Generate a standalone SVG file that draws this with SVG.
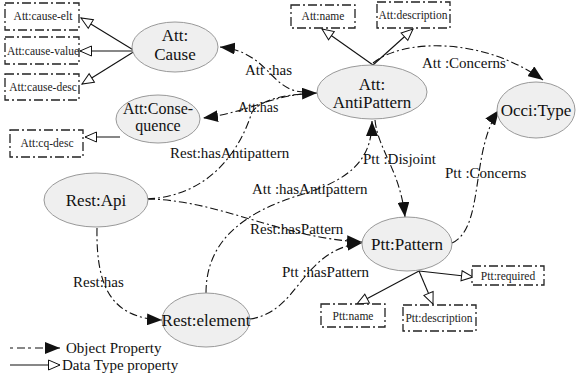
<svg xmlns="http://www.w3.org/2000/svg" width="579" height="377" viewBox="0 0 579 377">
<defs>
<marker id="fa" markerUnits="userSpaceOnUse" markerWidth="16" markerHeight="12" refX="15" refY="6" orient="auto">
<path d="M0,0 L15,6 L0,12 z" fill="#111"/>
</marker>
<marker id="ha" markerUnits="userSpaceOnUse" markerWidth="14" markerHeight="12" refX="12.5" refY="6" orient="auto">
<path d="M1,1 L12.5,6 L1,11 z" fill="#fff" stroke="#111" stroke-width="1"/>
</marker>
</defs>
<style>
.node ellipse{fill:#efefef;stroke:#999;stroke-width:1}
.node text{font-family:"Liberation Serif",serif;font-size:17px;fill:#111;text-anchor:middle}
.box rect{fill:#fff;stroke:#222;stroke-width:1.3;stroke-dasharray:9,3,2,3}
.box text{font-family:"Liberation Serif",serif;font-size:11.5px;fill:#222;text-anchor:middle}
.op{fill:none;stroke:#111;stroke-width:1.1;stroke-dasharray:8,3,2,3;marker-end:url(#fa)}
.dp{fill:none;stroke:#111;stroke-width:1.1;marker-end:url(#ha)}
.lbl{font-family:"Liberation Serif",serif;font-size:15px;fill:#111}
</style>
<rect width="579" height="377" fill="#fff"/>
<g id="connectors">
<path class="dp" d="M135,51 L81,18"/>
<path class="dp" d="M135,51 L80,51"/>
<path class="dp" d="M135,51 L82,84"/>
<path class="dp" d="M120,137 L85,137"/>
<path class="dp" d="M373,65 L322,29"/>
<path class="dp" d="M373,65 L413,29"/>
<path class="dp" d="M419,271 L357,304"/>
<path class="dp" d="M419,271 L433,304"/>
<path class="dp" d="M419,271 L473,277"/>
<path class="op" d="M305,92 C270,92 270,52 220,47"/>
<path class="op" d="M305,94 C270,96 250,112 203,118"/>
<path class="op" d="M147,199 C210,196 240,150 252,112 C262,98 290,94 317,93"/>
<path class="op" d="M373,63 C400,40 480,35 543,80"/>
<path class="op" d="M206,293 C206,240 245,212 300,195 C350,180 372,160 372,121"/>
<path class="op" d="M375,120 C378,150 400,170 405,217"/>
<path class="op" d="M147,199 C220,200 280,238 362,242"/>
<path class="op" d="M250,319 C300,312 300,250 362,243"/>
<path class="op" d="M452,243 C485,228 470,150 499,110"/>
<path class="op" d="M97,228 C96,285 110,318 162,320"/>
<text class="lbl" x="245" y="75">Att :has</text>
<text class="lbl" x="238" y="112" style="font-size:14px">Att:has</text>
<text class="lbl" x="170" y="158">Rest:hasAntipattern</text>
<text class="lbl" x="422" y="68">Att :Concerns</text>
<text class="lbl" x="363" y="164">Ptt :Disjoint</text>
<text class="lbl" x="252" y="194">Att :hasAntipattern</text>
<text class="lbl" x="250" y="234">Rest:hasPattern</text>
<text class="lbl" x="282" y="277">Ptt :hasPattern</text>
<text class="lbl" x="445" y="178">Ptt :Concerns</text>
<text class="lbl" x="73" y="287">Rest:has</text>
</g>
<g id="cause" class="node"><ellipse cx="175" cy="47" rx="43" ry="25"/><text x="175" y="41">Att:</text><text x="175" y="60">Cause</text></g>
<g id="consequence" class="node"><ellipse cx="158" cy="119" rx="42" ry="24"/><text x="158" y="114" style="font-size:16px">Att:Conse-</text><text x="158" y="131" style="font-size:16px">quence</text></g>
<g id="antipattern" class="node"><ellipse cx="372" cy="92" rx="55" ry="27"/><text x="372" y="90">Att:</text><text x="372" y="108">AntiPattern</text></g>
<g id="occitype" class="node"><ellipse cx="536" cy="110" rx="39" ry="28"/><text x="536" y="116">Occi:Type</text></g>
<g id="restapi" class="node"><ellipse cx="96" cy="200" rx="52" ry="27"/><text x="96" y="206">Rest:Api</text></g>
<g id="pattern" class="node"><ellipse cx="407" cy="244" rx="45" ry="27"/><text x="407" y="250">Ptt:Pattern</text></g>
<g id="restelement" class="node"><ellipse cx="206" cy="320" rx="44" ry="27"/><text x="206" y="326">Rest:element</text></g>
<g id="cause-elt" class="box"><rect x="5" y="3" width="74" height="27"/><text x="43" y="20">Att:cause-elt</text></g>
<g id="cause-value" class="box"><rect x="5" y="37" width="74" height="27"/><text x="43" y="55">Att:cause-value</text></g>
<g id="cause-desc" class="box"><rect x="5" y="74" width="74" height="26"/><text x="43" y="91">Att:cause-desc</text></g>
<g id="cq-desc" class="box"><rect x="10" y="130" width="73" height="27"/><text x="47" y="147">Att:cq-desc</text></g>
<g id="att-name" class="box"><rect x="291" y="5" width="64" height="23"/><text x="323" y="20">Att:name</text></g>
<g id="att-description" class="box"><rect x="377" y="2" width="73" height="26"/><text x="413" y="19">Att:description</text></g>
<g id="ptt-name" class="box"><rect x="321" y="304" width="64" height="23"/><text x="353" y="320">Ptt:name</text></g>
<g id="ptt-description" class="box"><rect x="403" y="305" width="73" height="26"/><text x="439" y="322">Ptt:description</text></g>
<g id="ptt-required" class="box"><rect x="472" y="266" width="72" height="19"/><text x="508" y="280">Ptt:required</text></g>
<g id="legend">
<path d="M10,348 L60,348" fill="none" stroke="#111" stroke-width="1.1" stroke-dasharray="3,4,8,3" marker-end="url(#fa)"/>
<text class="lbl" x="66" y="353">Object Property</text>
<path d="M10,365 L60,365" fill="none" stroke="#111" stroke-width="1.1" marker-end="url(#ha)"/>
<text class="lbl" x="62" y="370">Data Type property</text>
</g>
</svg>
